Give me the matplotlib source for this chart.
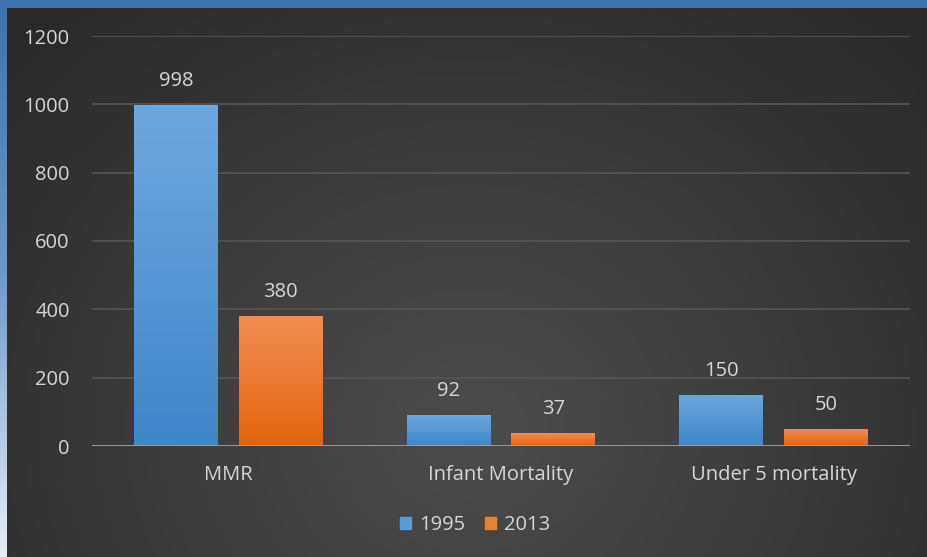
import numpy as np
import matplotlib
matplotlib.use("Agg")
import matplotlib.pyplot as plt
from matplotlib.colors import LinearSegmentedColormap
from matplotlib.patches import Patch

categories = ["MMR", "Infant Mortality", "Under 5 mortality"]
series_names = ["1995", "2013"]
values_1995 = [998, 92, 150]
values_2013 = [380, 37, 50]
y_ticks = [0, 200, 400, 600, 800, 1000, 1200]

plt.rcParams['font.family'] = ['Open Sans', 'DejaVu Sans']
text_color = "#D6D6D6"
fs = 14.5

W, H = 927, 557
fig = plt.figure(figsize=(W / 100, H / 100), dpi=100)

# slide background (blue band on top, blue-to-white on the left)
bg = fig.add_axes([0, 0, 1, 1])
bg.set_axis_off()
yy = np.linspace(0, 1, 200)[:, None] * np.ones((1, 2))
slide_cmap = LinearSegmentedColormap.from_list("slide", ["#3D72AE", "#6F9ACB", "#E8EEF6"])
bg.imshow(yy, cmap=slide_cmap, aspect="auto", extent=[0, 1, 1, 0])
bg.set_xlim(0, 1)
bg.set_ylim(1, 0)

# chart area with radial dark gradient
chart = fig.add_axes([7 / W, 0, 1 - 7 / W, 1 - 8 / H])
chart.set_axis_off()
xs = np.linspace(7, W, 400)
ys = np.linspace(8, H, 260)
X, Y = np.meshgrid(xs, ys)
r = np.sqrt(((X - 470) / 1.0) ** 2 + ((Y - 430) / 0.9) ** 2)
r = np.clip(r / 620, 0, 1)
dark_cmap = LinearSegmentedColormap.from_list("dark", ["#4C4C4C", "#3C3C3C", "#2A2A2A"])
chart.imshow(r, cmap=dark_cmap, aspect="auto", extent=[0, 1, 0, 1], origin="upper")
chart.set_xlim(0, 1)
chart.set_ylim(0, 1)

# plot area
ax = fig.add_axes([92 / W, 1 - 446 / H, (910 - 92) / W, (446 - 36) / H])
ax.patch.set_alpha(0)
for s in ax.spines.values():
    s.set_visible(False)
ax.axhline(0, color="#A6A6A6", lw=1.2, zorder=3)

x = np.arange(len(categories))
width = 0.308
offset = 0.192
bars1 = ax.bar(x - offset, values_1995, width, color="#5B9BD5", zorder=2)
bars2 = ax.bar(x + offset, values_2013, width, color="#ED7D31", zorder=2)

grad = np.linspace(0, 1, 100)[:, None]
blue_cmap = LinearSegmentedColormap.from_list("b", ["#6EA7DE", "#3F86C9"])
orange_cmap = LinearSegmentedColormap.from_list("o", ["#F18E52", "#E3640F"])
for bars, cmap in [(bars1, blue_cmap), (bars2, orange_cmap)]:
    for b in bars:
        x0, w, h = b.get_x(), b.get_width(), b.get_height()
        im = ax.imshow(grad, cmap=cmap, aspect="auto",
                       extent=[x0, x0 + w, 0, h], origin="upper", zorder=2.5)
        im.set_clip_path(b)

for bars in (bars1, bars2):
    for b in bars:
        ax.text(b.get_x() + b.get_width() / 2, b.get_height() + 70,
                f"{b.get_height():.0f}", ha="center", va="center",
                color=text_color, fontsize=fs)

ax.set_xlim(-0.5, 2.5)
ax.set_ylim(0, 1200)
ax.set_yticks(y_ticks)
ax.set_xticks(x)
ax.set_xticklabels(categories)
ax.grid(axis="y", color="#555555", lw=1.2, zorder=0)
ax.set_axisbelow(True)
ax.tick_params(axis="y", length=0, pad=16, colors=text_color, labelsize=fs)
ax.tick_params(axis="x", length=0, pad=14, colors=text_color, labelsize=fs)

handles = [Patch(color="#5B9BD5"), Patch(color="#ED7D31")]
fig.legend(handles, series_names, loc="center", ncol=2,
           bbox_to_anchor=(475 / W, 1 - 525 / H), frameon=False,
           handlelength=0.55, handleheight=0.55, handletextpad=0.4,
           columnspacing=1.0, labelcolor=text_color, fontsize=fs)

fig.savefig("out.png", dpi=100)
